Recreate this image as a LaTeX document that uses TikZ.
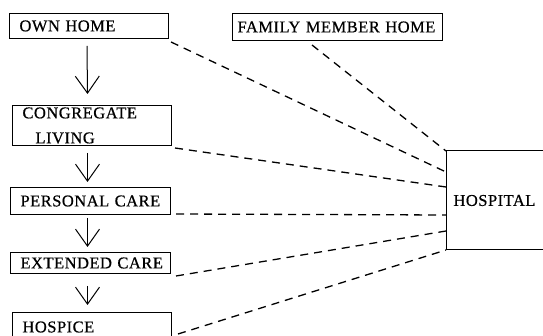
\documentclass[tikz,border=0pt]{standalone}
\usepackage{fontspec}
\setmainfont[LetterSpace=3,FakeBold=0.6]{Liberation Serif}
\usetikzlibrary{arrows.meta,calc}
\tikzset{
  stage/.style={draw, line width=1pt, anchor=north west, inner xsep=10pt, inner ysep=0pt,
    align=left, font=\fontsize{16.5}{25}\selectfont},
  flow/.style={line width=1pt, -{Straight Barb[length=17pt,width=24pt,line width=1pt]}},
  link/.style={line width=1.3pt, dash pattern=on 8pt off 6pt}
}
\begin{document}
\begin{tikzpicture}[x=1pt,y=-1pt]
\useasboundingbox (0,0) rectangle (543,336);
\clip (0,0) rectangle (543,336);
\fill[white] (0,0) rectangle (543,336);

\node[stage, text width=139pt, minimum height=25pt] (own) at (9,13) {\mbox{OWN HOME}};
\node[stage, text width=139pt, minimum height=40pt] (cong) at (12,105) {\mbox{CONGREGATE}\\\hspace*{13pt}\mbox{LIVING}};
\node[stage, text width=140pt, minimum height=27pt] (pers) at (10,187) {\mbox{PERSONAL CARE}};
\node[stage, text width=140pt, minimum height=21pt] (ext) at (10,252) {\mbox{EXTENDED CARE}};
\node[stage, text width=139pt, minimum height=29pt] (hosp) at (12,312) {\mbox{HOSPICE}};
\node[stage, text width=200pt, minimum height=27pt, inner xsep=5pt] (fam) at (232,13) {\mbox{FAMILY MEMBER HOME}};
\node[stage, draw=none, text width=130pt, minimum height=98pt, inner xsep=7pt] (hospital) at (446,151) {\mbox{HOSPITAL}};
\draw[line width=1pt] (hospital.north east) -- (hospital.north west) -- (hospital.south west) -- (hospital.south east);

% vertical flow arrows
\draw[flow] ($(own.south)+(-2,7)$) -- ($(cong.north)+(-4.5,-11)$);
\draw[flow] ($(cong.south)+(-4.5,7)$) -- ($(pers.north)+(-3,-5)$);
\draw[flow] ($(pers.south)+(-3,3)$) -- ($(ext.north)+(-3,-5)$);
\draw[flow] ($(ext.south)+(-3,12)$) -- ($(hosp.north)+(-4.5,-7)$);

% points on hospital
\coordinate (h1) at (446,172);
\coordinate (h3) at (446,187);
\coordinate (h4) at (446,215);
\coordinate (h5) at (446,231);
\coordinate (famout) at (312,45);

\draw[link] ($(own.south east)+(2,3)$) -- (h1);
\draw[link] (famout) -- (hospital.north west);
\draw[link] ($(cong.south east)+(3,2)$) -- (h3);
\draw[link] ($(pers.south east)+(5,-1)$) -- (h4);
\draw[link] ($(ext.south east)+(5,2)$) -- (h5);
\draw[link] ($(hosp.north east)+(6,22)$) -- (hospital.south west);
\end{tikzpicture}
\end{document}
